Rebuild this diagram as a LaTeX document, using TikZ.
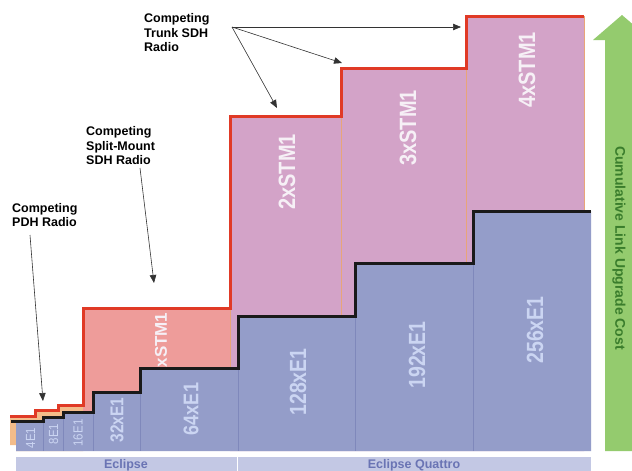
\documentclass[tikz,border=0pt]{standalone}
\usepackage{fontspec}
\setmainfont{Liberation Sans}
\usetikzlibrary{arrows.meta}
\definecolor{colblue}{HTML}{949DC9}
\definecolor{colbluedark}{HTML}{7F88BB}
\definecolor{colpink}{HTML}{D3A3C8}
\definecolor{colsalmon}{HTML}{EE9C9A}
\definecolor{colorange}{HTML}{F3BC8A}
\definecolor{colorangeline}{HTML}{E8A578}
\definecolor{colred}{HTML}{E03A26}
\definecolor{colblack}{HTML}{1A1A1A}
\definecolor{colbar}{HTML}{C3C8E4}
\definecolor{colbartext}{HTML}{6A74B4}
\definecolor{colgreen}{HTML}{94CB6E}
\definecolor{colgreentext}{HTML}{3A7D2C}
\definecolor{colbluetext}{HTML}{CBD5F2}
\definecolor{colpinktext}{HTML}{F6F0F6}
\definecolor{colarrow}{HTML}{333333}
\tikzset{
  redline/.style={draw=colred, line width=3pt, line join=miter},
  blackline/.style={draw=colblack, line width=3pt, line join=miter},
  divider/.style={draw=colbluedark, line width=0.6pt},
  pinkdivider/.style={draw=colorangeline, line width=0.6pt},
  bigblue/.style={rotate=90, text=colbluetext, inner sep=0pt, font=\bfseries\fontsize{19.5}{20}\selectfont},
  bigpink/.style={rotate=90, text=colpinktext, inner sep=0pt, font=\bfseries\fontsize{20}{20}\selectfont},
  smallblue/.style={rotate=90, text=colbluetext, inner sep=0pt, font=\fontsize{11.5}{12}\selectfont},
  callout/.style={anchor=north west, align=left, inner sep=0pt, text=black, font=\bfseries\fontsize{12.5}{14.2}\selectfont},
  pointer/.style={draw=colarrow, line width=0.6pt, -{Triangle[length=8pt,width=6.5pt]}},
  bartext/.style={anchor=base, inner sep=0pt, text=colbartext, font=\bfseries\fontsize{12.5}{13}\selectfont},
}
\newcommand{\tallcap}[2]{\scalebox{1}[#1]{#2}}
\begin{document}
\begin{tikzpicture}[x=1pt,y=-1pt]
\useasboundingbox (0,0) rectangle (632,471);
\clip (0,0) rectangle (632,471);
\fill[white] (0,0) rectangle (632,471);

% orange small-step region
\fill[colorange] (10,416) -- (35,416) -- (35,410) -- (58,410) -- (58,405) -- (83,405) -- (83,451) -- (16,451) -- (16,445) -- (10,445) -- cycle;
% salmon 1xSTM1
\fill[colsalmon] (83,308) rectangle (230,451);
% pink STM1 columns
\fill[colpink] (230,451) -- (230,116) -- (341,116) -- (341,68) -- (466,68) -- (466,16) -- (584,16) -- (584,451) -- cycle;
\draw[pinkdivider] (230,308) -- (230,451);
\draw[pinkdivider] (341,116) -- (341,451);
\draw[pinkdivider] (466,68) -- (466,451);
\draw[pinkdivider] (584,16) -- (584,451);

% blue E1 columns
\fill[colblue] (16,451) -- (16,421) -- (43,421) -- (43,417) -- (63,417) -- (63,412) -- (93,412) -- (93,392) -- (140,392) -- (140,368) -- (238,368) -- (238,316) -- (355,316) -- (355,263) -- (473,263) -- (473,211) -- (591,211) -- (591,451) -- cycle;
\draw[divider] (43,417) -- (43,451);
\draw[divider] (63,412) -- (63,451);
\draw[divider] (93,392) -- (93,451);
\draw[divider] (140,368) -- (140,451);
\draw[divider] (238,316) -- (238,451);
\draw[divider] (355,263) -- (355,451);
\draw[divider] (473,211) -- (473,451);

% step outlines
\draw[redline] (10,416) -- (35,416) -- (35,410) -- (58,410) -- (58,405) -- (83,405) -- (83,308) -- (230,308) -- (230,116) -- (341,116) -- (341,68) -- (466,68) -- (466,16) -- (584,16);
\draw[blackline] (11,421) -- (43,421) -- (43,417) -- (63,417) -- (63,412) -- (93,412) -- (93,392) -- (140,392) -- (140,368) -- (238,368) -- (238,316) -- (355,316) -- (355,263) -- (473,263) -- (473,211) -- (591,211);

% column labels
\node[smallblue] (l4) at (30.5,438) {\tallcap{1.15}{4E1}};
\node[smallblue] (l8) at (53.5,434) {\tallcap{1.15}{8E1}};
\node[smallblue] (l16) at (78,433) {\tallcap{1.15}{16E1}};
\node[bigblue, font=\bfseries\fontsize{15.5}{16}\selectfont] (l32) at (117,420) {\tallcap{1.2}{32xE1}};
\node[bigblue, font=\bfseries\fontsize{18}{18}\selectfont] (l64) at (191,409) {\tallcap{1.18}{64xE1}};
\node[bigblue] (l128) at (298,382) {\tallcap{1.2}{128xE1}};
\node[bigblue] (l192) at (417,355) {\tallcap{1.2}{192xE1}};
\node[bigblue] (l256) at (535,330) {\tallcap{1.2}{256xE1}};
\node[bigpink, font=\bfseries\fontsize{17}{17}\selectfont] (s1) at (161,340) {xSTM1};
\node[bigpink] (s2) at (287,172) {\tallcap{1.18}{2xSTM1}};
\node[bigpink] (s3) at (408,128) {\tallcap{1.18}{3xSTM1}};
\node[bigpink] (s4) at (527,70) {\tallcap{1.18}{4xSTM1}};

% bottom bars
\fill[colbar] (16,457) rectangle (236.5,475);
\fill[colbar] (238,457) rectangle (591,475);
\node[bartext] (eclipse) at (126,468) {Eclipse};
\node[bartext] (quattro) at (414,468) {Eclipse Quattro};

% green cost arrow
\fill[colgreen] (605,451) -- (605,40) -- (593,40) -- (622,15) -- (651,40) -- (639,40) -- (639,451) -- cycle;
\node[rotate=-90, inner sep=0pt, text=colgreentext, font=\bfseries\fontsize{14}{14}\selectfont] (cost) at (619,248) {Cumulative Link Upgrade Cost};

% callouts
\node[callout] (trunk) at (144,13.6) {Competing\\Trunk SDH\\Radio};
\node[callout] (split) at (86,126.6) {Competing\\Split-Mount\\SDH Radio};
\node[callout] (pdh) at (12,203.2) {Competing\\PDH Radio};

\coordinate (trunkfrom) at (232,27);
\coordinate (trunkto2) at (277,108);
\coordinate (trunkto3) at (342,63);
\coordinate (trunkto4) at (461,27);
\coordinate (splitfrom) at (140,168);
\coordinate (splitto) at (154,283);
\coordinate (pdhfrom) at (30,235);
\coordinate (pdhto) at (43,401);
\draw[pointer] (trunkfrom) -- (trunkto2);
\draw[pointer] (trunkfrom) -- (trunkto3);
\draw[pointer] (trunkfrom) -- (trunkto4);
\draw[pointer] (splitfrom) -- (splitto);
\draw[pointer] (pdhfrom) -- (pdhto);
\end{tikzpicture}
\end{document}
